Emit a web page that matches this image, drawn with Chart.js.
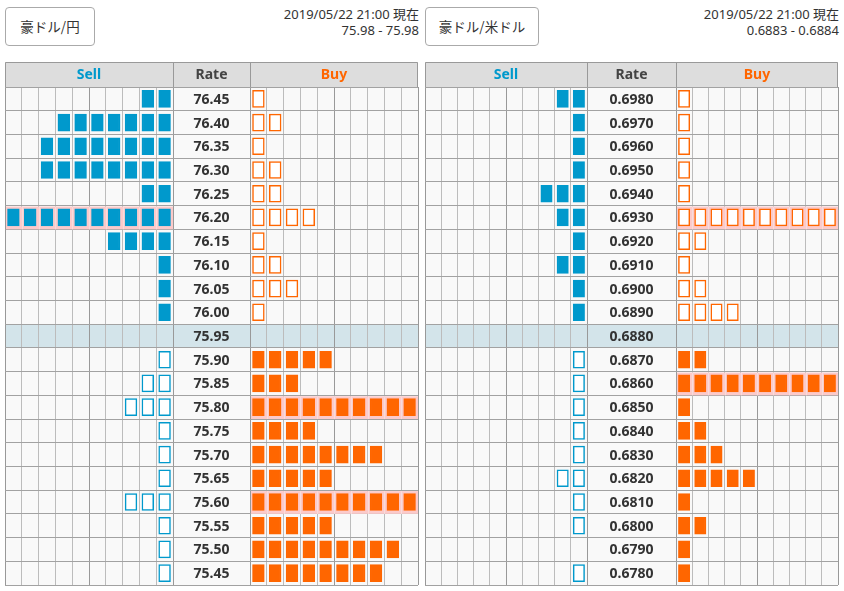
<!DOCTYPE html>
<html>
<head>
<meta charset="utf-8">
<script src="https://cdn.jsdelivr.net/npm/chart.js@4"></script>
<style>
  body { margin: 0; width: 844px; height: 591px; background: #fff; position: relative; overflow: hidden;
         font-family: "Noto Sans", "Noto Sans CJK JP", sans-serif; color: #333; }
  canvas { position: absolute; left: 0; top: 0; }
  .pair { position: absolute; top: 7px; height: 37px; border: 1px solid #aaa; border-radius: 4px; background: #fff;
          font-family: "Noto Sans CJK JP", sans-serif; font-size: 13.5px; line-height: 37px; text-align: center; }
  .stamp { position: absolute; top: 6px; font-size: 13px; line-height: 16px; text-align: right; }
</style>
</head>
<body>
<div class="pair" style="left:5px;width:88px">豪ドル/円</div>
<div class="stamp" style="right:425px">2019/05/22 21:00 現在<br>75.98 - 75.98</div>
<div class="pair" style="left:425px;width:112px">豪ドル/米ドル</div>
<div class="stamp" style="right:5px">2019/05/22 21:00 現在<br>0.6883 - 0.6884</div>
<canvas id="jpy" width="844" height="591"></canvas>
<canvas id="usd" width="844" height="591"></canvas>
<script>
// 豪ドル/円
const jpyRates = ['76.45', '76.40', '76.35', '76.30', '76.25', '76.20', '76.15', '76.10', '76.05', '76.00', '75.95',
                  '75.90', '75.85', '75.80', '75.75', '75.70', '75.65', '75.60', '75.55', '75.50', '75.45'];
const jpySell = [2, 7, 8, 8, 2, 10, 4, 1, 1, 1, 0, 1, 2, 3, 1, 1, 1, 3, 1, 1, 1];
const jpyBuy = [1, 2, 1, 2, 2, 4, 1, 2, 3, 1, 0, 5, 3, 10, 4, 8, 5, 10, 5, 9, 8];
const jpyCurrent = '75.95';

// 豪ドル/米ドル
const usdRates = ['0.6980', '0.6970', '0.6960', '0.6950', '0.6940', '0.6930', '0.6920', '0.6910', '0.6900', '0.6890', '0.6880',
                  '0.6870', '0.6860', '0.6850', '0.6840', '0.6830', '0.6820', '0.6810', '0.6800', '0.6790', '0.6780'];
const usdSell = [2, 1, 1, 1, 3, 2, 1, 2, 1, 1, 0, 1, 1, 1, 1, 1, 2, 1, 1, 0, 1];
const usdBuy = [1, 1, 1, 1, 1, 10, 2, 1, 2, 4, 0, 2, 10, 1, 2, 3, 5, 1, 2, 1, 1];
const usdCurrent = '0.6880';

const BLUE = '#0099cc';
const ORANGE = '#ff6600';
const CELLS = 10;

function makePanel(id, rates, sell, buy, current, padLeft, padRight, rateW) {
    var mid = rates.indexOf(current);
    var buyStart = CELLS + rateW;
    var gap = 0.15;
    var datasets = [];

    for (var k = 1; k <= CELLS; k++) {
        // sell blocks grow from the rate column to the left
        datasets.push({
            data: sell.map(n => n >= k ? [CELLS - k + gap, CELLS - k + 1 - gap] : null),
            backgroundColor: c => c.dataIndex < mid ? BLUE : '#ffffff',
            borderColor: BLUE,
            borderWidth: 1.5,
            borderSkipped: false,
            barThickness: 17,
            grouped: false
        });
        // buy blocks grow to the right
        datasets.push({
            data: buy.map(n => n >= k ? [buyStart + k - 1 + gap, buyStart + k - gap] : null),
            backgroundColor: c => c.dataIndex > mid ? ORANGE : '#ffffff',
            borderColor: ORANGE,
            borderWidth: 1.5,
            borderSkipped: false,
            barThickness: 17,
            grouped: false
        });
    }

    var lines = [];
    for (var i = 0; i <= CELLS; i++) lines.push(i);
    for (var j = 0; j <= CELLS; j++) lines.push(buyStart + j);

    var rowBounds = function(chart, i) {
        var y = chart.scales.y;
        var h = (y.bottom - y.top) / rates.length;
        var c = y.getPixelForTick(i);
        return [c - h / 2, c + h / 2];
    };

    var tablePlugin = {
        id: 'table',
        beforeDraw: function(chart) {
            var ctx = chart.ctx, a = chart.chartArea;
            ctx.save();
            ctx.fillStyle = '#f9f9f9';
            ctx.fillRect(a.left, a.top, a.right - a.left, a.bottom - a.top);
            var r = rowBounds(chart, mid);
            ctx.fillStyle = '#d3e4ea';
            ctx.fillRect(a.left, r[0], a.right - a.left, r[1] - r[0]);
            ctx.restore();
        },
        beforeDatasetsDraw: function(chart) {
            var ctx = chart.ctx, x = chart.scales.x;
            ctx.save();
            rates.forEach(function(rate, i) {
                var r = rowBounds(chart, i);
                [[sell[i], 0], [buy[i], buyStart]].forEach(function(side) {
                    if (side[0] < CELLS) return;
                    var x0 = x.getPixelForValue(side[1]), x1 = x.getPixelForValue(side[1] + CELLS);
                    ctx.fillStyle = '#fccaca';
                    ctx.fillRect(x0 + 1, r[0] + 1, x1 - x0 - 1, r[1] - r[0] - 1);
                    ctx.strokeStyle = '#f7dcdc';
                    ctx.lineWidth = 1;
                    for (var c = 1; c < CELLS; c++) {
                        var px = Math.round(x.getPixelForValue(side[1] + c)) + 0.5;
                        ctx.beginPath();
                        ctx.moveTo(px, r[0] + 1);
                        ctx.lineTo(px, r[1]);
                        ctx.stroke();
                    }
                });
            });
            ctx.restore();
        },
        afterDraw: function(chart) {
            var ctx = chart.ctx, a = chart.chartArea, x = chart.scales.x, y = chart.scales.y;
            var top = a.top - 25;
            var xr0 = x.getPixelForValue(CELLS), xr1 = x.getPixelForValue(buyStart);
            ctx.save();
            // header row
            ctx.fillStyle = '#dddddd';
            ctx.fillRect(a.left, top, a.right - a.left, a.top - top);
            ctx.strokeStyle = '#999999';
            ctx.lineWidth = 1;
            ctx.beginPath();
            ctx.moveTo(Math.round(a.left) + 0.5, a.top);
            ctx.lineTo(Math.round(a.left) + 0.5, top + 0.5);
            ctx.lineTo(Math.round(a.right) - 0.5, top + 0.5);
            ctx.lineTo(Math.round(a.right) - 0.5, a.top);
            [xr0, xr1].forEach(function(px) {
                ctx.moveTo(Math.round(px) + 0.5, top);
                ctx.lineTo(Math.round(px) + 0.5, a.top);
            });
            ctx.stroke();

            ctx.textAlign = 'center';
            ctx.textBaseline = 'middle';
            ctx.font = 'bold 14px "Noto Sans"';
            var hy = (top + a.top) / 2 + 1;
            ctx.fillStyle = BLUE;
            ctx.fillText('Sell', (a.left + xr0) / 2, hy);
            ctx.fillStyle = '#444444';
            ctx.fillText('Rate', (xr0 + xr1) / 2, hy);
            ctx.fillStyle = ORANGE;
            ctx.fillText('Buy', (xr1 + a.right) / 2, hy);

            // rate labels
            ctx.fillStyle = '#333333';
            ctx.font = 'bold 14px "Noto Sans"';
            rates.forEach(function(rate, i) {
                ctx.fillText(rate, (xr0 + xr1) / 2, y.getPixelForTick(i) + 1);
            });
            ctx.restore();
        }
    };

    return new Chart(document.getElementById(id), {
        type: 'bar',
        data: { labels: rates, datasets: datasets },
        options: {
            indexAxis: 'y',
            responsive: false,
            animation: false,
            devicePixelRatio: 1,
            layout: { padding: { top: 87, bottom: 6, left: padLeft, right: padRight } },
            plugins: { legend: { display: false }, tooltip: { enabled: false } },
            scales: {
                x: {
                    type: 'linear',
                    min: 0,
                    max: buyStart + CELLS,
                    afterBuildTicks: function(s) { s.ticks = lines.map(v => ({ value: v })); },
                    afterFit: function(s) { s.height = 0; },
                    ticks: { display: false },
                    border: { display: false },
                    grid: {
                        drawTicks: false,
                        lineWidth: 1,
                        color: function(c) {
                            var v = c.tick.value;
                            if (v === 0 || v === 5 || v === CELLS || v === buyStart || v === buyStart + 5 || v === buyStart + CELLS) return '#999999';
                            return '#bcbcbc';
                        }
                    }
                },
                y: {
                    type: 'category',
                    offset: true,
                    afterFit: function(s) { s.width = 0; },
                    ticks: { display: false },
                    border: { display: false },
                    grid: { offset: true, drawTicks: false, color: '#a2a2a2', lineWidth: 1 }
                }
            }
        },
        plugins: [tablePlugin]
    });
}

makePanel('jpy', jpyRates, jpySell, jpyBuy, jpyCurrent, 5, 426, 77 / 16.8);
makePanel('usd', usdRates, usdSell, usdBuy, usdCurrent, 425, 6, 89 / 16.2);
</script>
</body>
</html>
